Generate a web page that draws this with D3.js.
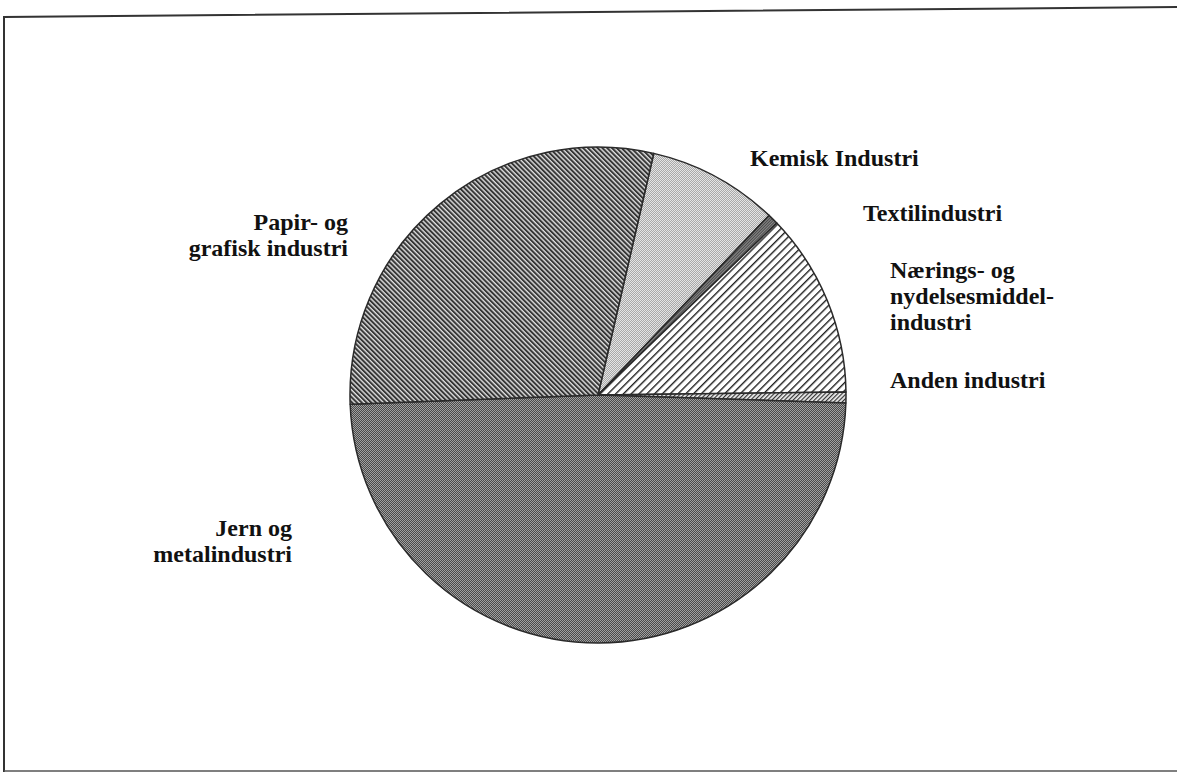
<!DOCTYPE html>
<html>
<head>
<meta charset="utf-8">
<script src="https://cdn.jsdelivr.net/npm/d3@7"></script>
<style>
  html, body { margin: 0; padding: 0; background: #fff; }
  svg { display: block; }
  .label { font-family: "Liberation Serif", "Times New Roman", serif; font-weight: bold; font-size: 24px; fill: #111; }
</style>
</head>
<body>
<div id="chart"></div>
<script>
// industry shares (%), clockwise from the Kemisk/Papir edge
const categories = ["Kemisk Industri", "Textilindustri", "Nærings- og nydelsesmiddelindustri", "Anden industri", "Jern og metalindustri", "Papir- og grafisk industri"];
const shares = [8.5, 0.7, 12.0, 0.7, 48.9, 29.2];
const labelLines = [
  ["Kemisk Industri"],
  ["Textilindustri"],
  ["Nærings- og", "nydelsesmiddel-", "industri"],
  ["Anden industri"],
  ["Jern og", "metalindustri"],
  ["Papir- og", "grafisk industri"]
];
const patternIds = ["pKemisk", "pTextil", "pNaering", "pAnden", "pJern", "pPapir"];

// where each label sits on the page
const labelLayout = [
  { x: 750, y: 166, anchor: "start" },
  { x: 863, y: 221, anchor: "start" },
  { x: 890, y: 278, anchor: "start" },
  { x: 890, y: 388, anchor: "start" },
  { x: 292, y: 536, anchor: "end" },
  { x: 348, y: 230, anchor: "end" }
];

const width = 1177, height = 774;
const cx = 598, cy = 395, radius = 248;
const startDeg = 13;

const svg = d3.select("#chart").append("svg")
  .attr("width", width)
  .attr("height", height);

const defs = svg.append("defs");

function stripes(id, period, lineW, angle, bg, fg) {
  const p = defs.append("pattern")
    .attr("id", id)
    .attr("patternUnits", "userSpaceOnUse")
    .attr("width", period)
    .attr("height", period)
    .attr("patternTransform", `rotate(${angle})`);
  p.append("rect").attr("width", period).attr("height", period).attr("fill", bg);
  p.append("rect").attr("width", lineW).attr("height", period).attr("fill", fg);
}

function checker(id, a, b) {
  const p = defs.append("pattern")
    .attr("id", id)
    .attr("patternUnits", "userSpaceOnUse")
    .attr("width", 2)
    .attr("height", 2);
  p.append("rect").attr("width", 2).attr("height", 2).attr("fill", b);
  p.append("rect").attr("width", 1).attr("height", 1).attr("fill", a);
  p.append("rect").attr("x", 1).attr("y", 1).attr("width", 1).attr("height", 1).attr("fill", a);
}

checker("pKemisk", "#a8a8a8", "#e4e4e4");
stripes("pTextil", 2, 1, 45, "#8a8a8a", "#4a4a4a");
stripes("pNaering", 5.5, 1.4, 45, "#ffffff", "#222");
stripes("pAnden", 3, 1.2, 45, "#f0f0f0", "#333");
checker("pJern", "#4a4a4a", "#a0a0a0");
stripes("pPapir", 3.4, 2, -45, "#e0e0e0", "#363636");

// frame
svg.append("path")
  .attr("d", "M4,772 L4,17 L1180,7")
  .attr("fill", "none")
  .attr("stroke", "#333")
  .attr("stroke-width", 2);
svg.append("path")
  .attr("d", "M4,771 L1180,771")
  .attr("fill", "none")
  .attr("stroke", "#555")
  .attr("stroke-width", 1.5);

const pie = d3.pie()
  .sort(null)
  .value(d => d)
  .startAngle(startDeg * Math.PI / 180)
  .endAngle((startDeg + 360) * Math.PI / 180);

const arc = d3.arc().innerRadius(0).outerRadius(radius);

const g = svg.append("g").attr("transform", `translate(${cx},${cy})`);

g.selectAll("path.slice")
  .data(pie(shares))
  .enter()
  .append("path")
  .attr("class", "slice")
  .attr("d", arc)
  .attr("fill", (d, i) => `url(#${patternIds[i]})`)
  .attr("stroke", "#2a2a2a")
  .attr("stroke-width", 1.5)
  .attr("stroke-linejoin", "round");

// labels
const lineH = 26;
svg.selectAll("text.label")
  .data(labelLines)
  .enter()
  .append("text")
  .attr("class", "label")
  .attr("text-anchor", (d, i) => labelLayout[i].anchor)
  .attr("x", (d, i) => labelLayout[i].x)
  .attr("y", (d, i) => labelLayout[i].y)
  .each(function(lines, i) {
    d3.select(this).selectAll("tspan")
      .data(lines)
      .enter()
      .append("tspan")
      .attr("x", labelLayout[i].x)
      .attr("dy", (l, j) => j === 0 ? 0 : lineH)
      .text(l => l);
  });
</script>
</body>
</html>
